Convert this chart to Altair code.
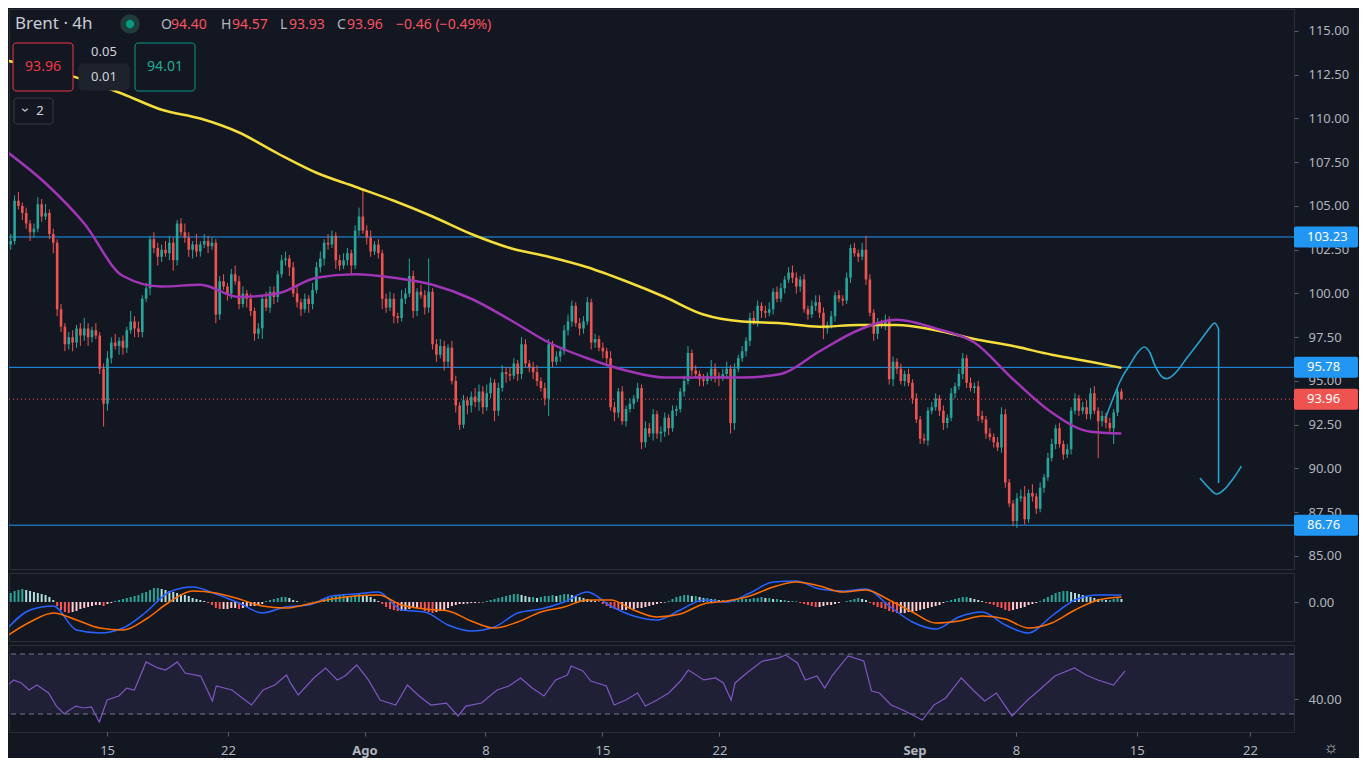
import altair as alt
import numpy as np
import pandas as pd

BG = "#131722"
UP = "#26a69a"
DOWN = "#ef5350"
TXT = "#b2b5be"
FONT = "Noto Sans"

# ---- Brent 4h candles (open = previous close) ----
first_open = 103.3
closes = [
    102.8, 103.0, 105.3, 105.0, 104.6, 104.0, 103.5, 103.7, 105.1, 104.4,
    104.6, 103.4, 102.9, 99.1, 98.1, 97.1, 97.5, 97.2, 98.0, 97.6,
    98.0, 97.5, 97.9, 97.6, 95.7, 93.7, 96.3, 97.2, 97.0, 97.3,
    96.9, 97.9, 98.4, 98.0, 97.8, 99.7, 100.3, 103.1, 102.6, 102.1,
    102.5, 102.3, 102.9, 101.9, 104.0, 103.5, 103.2, 102.5, 102.8, 102.4,
    102.8, 103.0, 102.7, 102.9, 98.8, 100.7, 100.4, 100.0, 101.1, 100.7,
    99.4, 100.0, 99.7, 99.0, 97.7, 98.0, 99.7, 99.2, 100.1, 99.8,
    101.1, 101.9, 102.0, 101.5, 100.0, 99.5, 99.1, 99.7, 99.4, 100.2,
    101.5, 102.0, 102.9, 102.8, 103.3, 101.9, 101.6, 101.9, 102.3, 101.6,
    103.6, 104.4, 103.6, 103.2, 102.4, 102.8, 102.3, 99.7, 99.2, 99.7,
    98.7, 98.6, 99.7, 100.0, 101.0, 99.0, 100.1, 99.9, 99.2, 100.1,
    97.1, 96.5, 97.0, 96.1, 96.9, 95.0, 93.6, 92.5, 93.9, 93.6,
    94.1, 93.8, 94.4, 93.5, 94.3, 94.9, 93.3, 94.6, 95.5, 95.4,
    95.3, 96.0, 95.4, 97.1, 96.0, 95.8, 95.5, 95.0, 94.6, 94.0,
    97.1, 96.1, 96.4, 96.7, 97.9, 98.4, 99.3, 98.3, 98.0, 98.4,
    99.5, 97.2, 97.4, 96.9, 96.7, 96.3, 93.5, 93.2, 94.4, 92.7,
    93.4, 93.7, 94.0, 94.6, 91.5, 92.3, 92.0, 93.1, 92.0, 92.1,
    92.9, 92.3, 93.3, 93.4, 94.4, 95.0, 96.6, 95.6, 95.4, 95.1,
    95.0, 95.3, 95.7, 95.3, 95.2, 95.4, 95.7, 92.6, 95.7, 96.3,
    96.7, 97.3, 98.6, 98.4, 99.3, 99.0, 98.9, 99.1, 100.1, 99.7,
    100.3, 100.8, 101.2, 100.9, 100.4, 100.8, 99.1, 98.8, 99.3, 99.5,
    98.9, 98.0, 98.2, 98.7, 99.9, 99.7, 99.6, 100.9, 102.6, 102.3,
    102.1, 102.5, 100.8, 98.9, 97.7, 98.3, 98.2, 98.5, 95.1, 96.1,
    95.7, 95.0, 95.4, 94.9, 94.0, 92.8, 91.7, 91.6, 93.3, 93.5,
    94.0, 93.3, 92.6, 92.9, 94.3, 94.7, 95.4, 96.3, 94.9, 94.6,
    94.7, 93.0, 92.8, 92.0, 91.8, 91.5, 91.2, 93.1, 89.2, 88.0,
    87.0, 88.3, 88.4, 87.1, 88.6, 88.4, 87.7, 88.9, 89.5, 90.6,
    91.4, 92.3, 91.4, 90.8, 91.1, 93.3, 94.0, 93.3, 93.5, 93.1,
    94.3, 93.3, 92.7, 93.0, 92.6, 92.3, 93.2, 94.4, 93.96,
]
# upper / lower wick beyond the body
wick_up = [
    0.3, 0.4, 0.3, 0.5, 0.2, 0.3, 0.2, 0.3, 0.4, 0.3,
    0.5, 0.2, 0.3, 0.2, 0.3, 0.2, 0.3, 0.4, 0.2, 0.3,
    0.6, 0.3, 0.2, 0.4, 0.2, 0.3, 0.4, 0.3, 0.5, 0.2,
    0.3, 0.2, 0.6, 0.3, 0.4, 0.2, 0.3, 0.2, 0.4, 0.3,
    0.3, 0.5, 0.4, 0.3, 0.2, 0.3, 0.5, 0.3, 0.2, 0.6,
    0.2, 0.4, 0.3, 0.3, 0.2, 0.3, 0.4, 0.2, 0.3, 0.5,
    0.3, 0.4, 0.2, 0.3, 0.2, 0.3, 0.2, 0.4, 0.3, 0.3,
    0.2, 0.3, 0.4, 0.2, 0.3, 0.5, 0.2, 0.3, 0.2, 0.4,
    0.3, 0.4, 0.2, 0.5, 0.3, 0.2, 0.3, 0.4, 0.3, 0.2,
    0.3, 0.5, 1.6, 0.3, 0.4, 0.2, 0.3, 0.2, 0.3, 0.4,
    0.3, 0.2, 0.5, 0.3, 1.0, 0.3, 0.2, 0.4, 0.3, 1.9,
    0.2, 0.3, 0.4, 0.3, 0.2, 0.4, 0.3, 0.2, 0.3, 0.2,
    0.3, 0.5, 0.4, 0.3, 0.5, 0.3, 0.2, 0.3, 0.4, 0.3,
    0.4, 0.3, 0.2, 0.4, 0.3, 0.2, 0.3, 0.4, 0.2, 0.3,
    0.3, 0.2, 0.3, 0.2, 0.3, 0.4, 0.3, 0.2, 0.3, 0.3,
    0.3, 0.2, 0.3, 0.2, 0.3, 0.2, 0.4, 0.3, 0.2, 0.3,
    0.2, 0.3, 0.2, 0.3, 0.2, 0.4, 0.3, 0.3, 0.2, 0.3,
    0.3, 0.2, 0.3, 0.2, 0.2, 0.3, 0.4, 0.2, 0.3, 0.2,
    0.3, 0.2, 0.5, 0.3, 0.2, 0.3, 0.4, 0.2, 0.3, 0.2,
    0.3, 0.2, 0.3, 0.4, 0.3, 0.2, 0.3, 0.4, 0.2, 0.3,
    0.3, 0.2, 0.3, 0.4, 0.3, 0.2, 0.3, 0.2, 0.3, 0.4,
    0.4, 0.3, 0.2, 0.3, 0.2, 0.3, 0.2, 0.3, 0.2, 0.3,
    0.2, 0.4, 0.8, 0.3, 0.2, 0.3, 0.2, 0.3, 0.2, 0.3,
    0.2, 0.3, 0.2, 0.3, 0.2, 0.3, 0.2, 0.3, 0.2, 0.3,
    0.3, 0.2, 0.3, 0.2, 0.3, 0.2, 0.3, 0.3, 0.2, 0.3,
    0.2, 0.3, 0.3, 0.2, 0.3, 0.2, 0.3, 0.4, 0.3, 0.2,
    0.2, 0.3, 0.4, 0.6, 0.2, 0.5, 0.2, 0.3, 0.2, 0.3,
    0.3, 0.2, 0.3, 0.2, 0.3, 0.2, 0.3, 0.2, 0.3, 0.4,
    0.3, 0.4, 0.2, 0.3, 0.2, 0.3, 0.2, 0.3, 0.17,
]
wick_dn = [
    0.4, 0.3, 0.2, 0.2, 0.4, 0.3, 0.5, 0.3, 0.2, 0.3,
    0.2, 0.3, 0.6, 0.4, 0.3, 0.4, 0.3, 0.5, 0.3, 0.6,
    0.3, 0.5, 0.3, 0.2, 0.3, 1.3, 0.4, 0.3, 0.2, 0.5,
    0.4, 0.3, 0.2, 0.5, 0.3, 0.3, 0.2, 0.4, 0.3, 0.5,
    0.3, 0.2, 0.4, 0.6, 0.3, 0.2, 0.3, 0.4, 0.5, 0.3,
    0.3, 0.2, 0.4, 0.2, 0.5, 0.3, 0.2, 0.4, 0.3, 0.2,
    0.3, 0.2, 0.5, 0.3, 0.4, 0.3, 0.6, 0.2, 0.3, 0.4,
    0.3, 0.2, 0.3, 0.5, 0.2, 0.3, 0.4, 0.2, 0.5, 0.3,
    0.2, 0.3, 0.4, 0.3, 0.2, 0.5, 0.3, 0.2, 0.3, 0.5,
    0.2, 0.3, 0.2, 0.4, 0.3, 0.2, 0.3, 0.6, 0.3, 0.2,
    0.4, 0.3, 0.2, 0.3, 0.2, 0.4, 0.3, 0.2, 0.4, 0.3,
    0.3, 0.4, 0.2, 0.5, 0.3, 0.2, 0.4, 0.3, 0.2, 0.5,
    0.4, 0.3, 0.5, 0.4, 0.2, 0.3, 0.6, 0.3, 0.2, 0.5,
    0.3, 0.2, 0.4, 0.3, 0.2, 0.3, 0.4, 0.3, 0.2, 0.4,
    1.0, 0.3, 0.2, 0.3, 0.2, 0.3, 0.3, 0.2, 0.4, 0.3,
    0.2, 0.4, 0.3, 0.2, 0.4, 0.3, 0.2, 0.5, 0.3, 0.2,
    0.3, 0.2, 0.3, 0.2, 0.4, 0.3, 0.2, 0.4, 0.3, 0.5,
    0.3, 0.4, 0.2, 0.3, 0.2, 0.3, 0.2, 0.3, 0.2, 0.4,
    0.3, 0.2, 0.3, 0.4, 0.5, 0.2, 0.3, 0.6, 0.4, 0.2,
    0.2, 0.3, 0.3, 0.2, 0.3, 0.4, 0.3, 0.2, 0.3, 0.2,
    0.2, 0.3, 0.2, 0.3, 0.4, 0.3, 0.2, 0.3, 0.2, 0.3,
    0.3, 0.6, 0.3, 0.2, 0.3, 0.2, 0.3, 0.2, 0.3, 0.2,
    0.3, 0.2, 0.3, 0.2, 0.4, 0.3, 0.2, 0.3, 0.3, 0.4,
    0.3, 0.2, 0.3, 0.2, 0.3, 0.2, 0.3, 0.2, 0.3, 0.2,
    0.2, 0.3, 0.4, 0.3, 0.2, 0.3, 0.2, 0.3, 0.3, 0.2,
    0.3, 0.3, 0.2, 0.3, 0.2, 0.3, 0.2, 0.3, 0.3, 0.2,
    0.3, 0.4, 0.2, 0.3, 0.2, 0.3, 0.3, 0.2, 0.3, 0.2,
    0.2, 0.3, 0.2, 0.3, 0.2, 0.3, 0.2, 0.3, 0.2, 0.3,
    0.3, 0.2, 2.1, 0.3, 0.3, 0.2, 0.9, 0.2, 0.03,
]

# moving averages (yellow = slow, purple = fast), sampled every 10 bars
ma_idx = [0, 10, 20, 30, 40, 50, 60, 70, 80, 90, 100, 110, 120, 130, 140,
          150, 160, 170, 180, 190, 200, 210, 220, 230, 240, 250, 260, 270, 280, 288]
ma_slow = [113.3, 112.85, 112.2, 111.4, 110.5, 110.0, 109.2, 108.0, 106.9, 106.1,
           105.3, 104.4, 103.4, 102.6, 102.1, 101.5, 100.7, 99.8, 98.8, 98.4,
           98.3, 98.1, 98.2, 98.2, 97.9, 97.4, 97.0, 96.5, 96.1, 95.75]
ma_fast = [108.1, 106.3, 104.0, 101.0, 100.4, 100.5, 99.8, 100.0, 100.9, 101.1,
           100.9, 100.5, 99.7, 98.5, 97.2, 96.3, 95.6, 95.2, 95.2, 95.2,
           95.4, 96.7, 97.9, 98.5, 98.0, 97.2, 95.1, 93.2, 92.1, 92.0]

levels = [103.23, 95.78, 86.76]
last_close = 93.96
price_ticks = [85, 87.5, 90, 92.5, 95, 97.5, 100, 102.5, 105, 107.5, 110, 112.5, 115]

# hand-drawn projection (bar index, price)
wave_idx = [283.9, 287.7, 290.3, 292.1, 293.9, 295.4, 296.7, 298.5, 300.3, 302.4,
            304.9, 308.3, 310.8, 312.1, 313.1]
wave_px = [92.89, 95.0, 95.97, 96.6, 96.94, 96.6, 95.86, 95.23, 95.17, 95.57,
           96.31, 97.29, 98.03, 98.31, 97.97]
drop_idx = [313.1, 313.1]
drop_px = [97.97, 89.17]
hook_idx = [308.3, 310.6, 312.6, 314.7, 317.0, 319.0]
hook_px = [89.46, 88.89, 88.54, 88.83, 89.46, 90.14]

# MACD lines, sampled every 6 bars
macd_idx = [0, 6, 12, 18, 24, 30, 36, 42, 48, 54, 60, 66, 72, 78, 84, 90, 96,
            102, 108, 114, 120, 126, 132, 138, 144, 150, 156, 162, 168, 174, 180,
            186, 192, 198, 204, 210, 216, 222, 228, 234, 240, 246, 252, 258, 264,
            270, 276, 282, 288]
macd_line = [-1.35, -0.4, -0.2, -1.4, -1.55, -1.3, -0.5, 0.5, 0.75, 0.4,
             -0.05, -0.55, -0.25, -0.15, 0.3, 0.4, 0.5, -0.4, -0.5, -1.15,
             -1.45, -1.25, -0.55, -0.35, 0.0, 0.5, -0.2, -0.7, -0.9, -0.4,
             0.1, 0.0, 0.45, 1.0, 1.05, 0.65, 0.55, 0.65, -0.2, -1.0,
             -1.35, -0.75, -0.5, -1.15, -1.55, -0.7, 0.1, 0.35, 0.35]
signal_line = [-1.7, -1.0, -0.55, -0.9, -1.3, -1.4, -0.85, 0.0, 0.55, 0.45,
               0.15, -0.2, -0.3, -0.1, 0.15, 0.3, 0.35, -0.15, -0.35, -0.45,
               -0.95, -1.3, -1.0, -0.5, -0.25, 0.1, 0.1, -0.4, -0.75, -0.6,
               -0.1, 0.05, 0.3, 0.75, 1.0, 0.8, 0.5, 0.6, 0.1, -0.5,
               -1.05, -0.95, -0.7, -0.85, -1.3, -1.05, -0.4, 0.1, 0.25]
# MACD histogram, one value per bar
hist = (
    [0.35, 0.45, 0.55, 0.6, 0.65, 0.6, 0.55, 0.5, 0.45, 0.4, 0.35, 0.25, 0.1]
    + [-0.2, -0.4, -0.5, -0.55, -0.5, -0.45, -0.35, -0.3, -0.25, -0.2, -0.15, -0.15, -0.2, -0.1, -0.05]
    + [0.05, 0.1, 0.15, 0.2, 0.25, 0.3, 0.35, 0.45, 0.5, 0.6, 0.7, 0.7, 0.65]
    + [0.6, 0.55, 0.5, 0.45, 0.4, 0.35, 0.3, 0.2, 0.15, 0.1, 0.05]
    + [-0.05, -0.15, -0.3, -0.35, -0.35, -0.35, -0.3, -0.3, -0.35, -0.3, -0.25, -0.2, -0.2, -0.15, -0.1]
    + [0.05, 0.1, 0.15, 0.2, 0.25, 0.25, 0.2, 0.1, 0.05, 0.0]
    + [0.02, -0.02, 0.02, 0.05]
    + [0.1, 0.15, 0.2, 0.25, 0.3, 0.35, 0.35, 0.3, 0.3, 0.35, 0.4, 0.35, 0.3, 0.25, 0.15, 0.05]
    + [-0.1, -0.25, -0.35, -0.4, -0.45, -0.45, -0.4, -0.35, -0.3, -0.3, -0.35, -0.45, -0.5, -0.55,
       -0.5, -0.45, -0.4, -0.3, -0.2, -0.15, -0.1]
    + [-0.1, -0.08, -0.05, -0.05, -0.03, -0.02]
    + [0.05, 0.1, 0.15, 0.2, 0.25, 0.3, 0.35, 0.4, 0.4, 0.35, 0.3, 0.25, 0.25, 0.2, 0.25, 0.3,
       0.3, 0.35, 0.3, 0.35, 0.4, 0.4, 0.35, 0.3, 0.25]
    + [0.2, 0.15, 0.1, 0.05, 0.02]
    + [-0.1, -0.2, -0.3, -0.35, -0.4, -0.4, -0.4, -0.35, -0.35, -0.3, -0.3, -0.25, -0.2, -0.15,
       -0.1, -0.05, -0.03]
    + [0.05, 0.15, 0.25, 0.3, 0.35, 0.35, 0.3, 0.3, 0.25, 0.2, 0.2]
    + [0.15, 0.15, 0.1, 0.1, 0.05, 0.05, 0.1, 0.1, 0.15, 0.15]
    + [0.15, 0.2, 0.2, 0.25, 0.2, 0.2, 0.15, 0.15, 0.1, 0.1, 0.05, 0.05, 0.02]
    + [-0.05, -0.1, -0.15, -0.2, -0.25, -0.25, -0.2, -0.15, -0.15, -0.1, -0.05, 0.0]
    + [0.05, 0.1, 0.15, 0.2, 0.15, 0.1]
    + [-0.05, -0.15, -0.25, -0.3, -0.35, -0.45, -0.5, -0.55, -0.55, -0.55, -0.5, -0.5, -0.45,
       -0.4, -0.35, -0.3, -0.25, -0.2, -0.15, -0.05]
    + [0.05, 0.1, 0.15, 0.2, 0.25, 0.25, 0.2, 0.15, 0.1, 0.05]
    + [-0.05, -0.1, -0.15, -0.25, -0.3, -0.4, -0.45, -0.4, -0.35, -0.3, -0.25, -0.15, -0.1, -0.05]
    + [0.05, 0.15, 0.25, 0.35, 0.45, 0.5, 0.55, 0.55, 0.5, 0.45, 0.4, 0.35, 0.3]
    + [0.25, 0.2, 0.15, 0.15, 0.1, 0.1, 0.15, 0.2, 0.15]
)

# RSI (bar index, value)
rsi_idx = [0, 3, 5, 7, 9, 12, 14, 16, 17, 19, 21, 23, 25, 27, 30, 32, 34, 37, 40, 42,
           45, 47, 51, 54, 55, 59, 61, 64, 67, 70, 73, 74, 76, 80, 83, 86, 88, 91, 94, 97,
           101, 104, 107, 110, 114, 117, 119, 123, 127, 130, 133, 136, 139, 142, 145, 146,
           149, 151, 155, 157, 160, 163, 165, 168, 171, 174, 176, 180, 183, 185, 187, 188,
           191, 195, 199, 201, 204, 206, 209, 211, 213, 217, 221, 223, 225, 228, 231, 236,
           239, 242, 246, 249, 252, 255, 259, 263, 266, 270, 275, 278, 281, 285, 288]
rsi_val = [45.3, 52.7, 50.7, 46.0, 49.3, 44.0, 35.3, 30.0, 32.0, 35.3, 34.0, 34.7, 24.7,
           39.3, 42.0, 47.3, 46.0, 64.7, 60.7, 59.3, 64.7, 57.3, 55.3, 38.7, 48.7, 46.0,
           42.0, 36.0, 46.0, 49.3, 56.0, 50.7, 42.7, 54.0, 60.7, 52.7, 55.3, 62.7, 52.7,
           39.3, 36.0, 49.3, 42.0, 36.0, 37.3, 28.7, 35.3, 37.3, 46.0, 48.7, 54.0, 47.3,
           42.0, 52.7, 56.0, 62.0, 58.7, 52.0, 48.7, 36.0, 39.3, 44.0, 35.3, 39.3, 44.0,
           52.0, 59.3, 52.7, 54.0, 50.7, 39.3, 50.7, 57.3, 65.3, 67.3, 69.3, 64.0, 52.7,
           55.3, 47.3, 56.0, 68.7, 65.3, 45.3, 44.0, 36.0, 32.7, 26.0, 36.0, 40.7, 54.0,
           46.0, 38.7, 44.0, 28.7, 39.3, 46.0, 55.3, 60.7, 56.0, 52.7, 49.3, 58.7]

tick_pos = [27, 58, 93, 124, 154, 184, 234, 260, 291, 320]
tick_lbl = ["15", "22", "Ago", "8", "15", "22", "Sep", "8", "15", "22"]

# ---- tables ----
candles = pd.DataFrame({
    "open": pd.Series([first_open] + closes[:-1]),
    "close": pd.Series(closes),
    "up": pd.Series(wick_up),
    "dn": pd.Series(wick_dn),
})
candles["up"] = candles["up"].fillna(0)
candles["dn"] = candles["dn"].fillna(0)
candles["i"] = range(len(candles))
candles["high"] = candles[["open", "close"]].max(axis=1) + candles["up"]
candles["low"] = candles[["open", "close"]].min(axis=1) - candles["dn"]
candles["col"] = np.where(candles["close"] >= candles["open"], UP, DOWN)

ma_df = pd.DataFrame({"i": ma_idx, "slow": ma_slow, "fast": ma_fast})

proj = pd.concat([
    pd.DataFrame({"i": wave_idx, "p": wave_px, "seg": "wave"}),
    pd.DataFrame({"i": drop_idx, "p": drop_px, "seg": "drop"}),
    pd.DataFrame({"i": hook_idx, "p": hook_px, "seg": "hook"}),
], ignore_index=True)
proj["seq"] = range(len(proj))

hist_df = pd.DataFrame({"h": hist})
hist_df["i"] = range(len(hist_df))
prev = hist_df["h"].shift(1).fillna(0)
hist_df["col"] = np.where(
    hist_df["h"] >= 0,
    np.where(hist_df["h"] >= prev, "#26a69a", "#b2dfdb"),
    np.where(hist_df["h"] < prev, "#ff5252", "#ffcdd2"),
)
macd_df = pd.DataFrame({"i": macd_idx, "macd": macd_line, "signal": signal_line})
rsi_df = pd.DataFrame({"i": rsi_idx, "rsi": rsi_val})

tags = pd.DataFrame({"level": levels + [last_close],
                     "fill": ["#2196f3", "#2196f3", "#2196f3", DOWN]})
tags["txt"] = tags["level"].map("{:.2f}".format)

# ---- scales / axes ----
W = 1285
xs = alt.Scale(domain=[1.85, 331.3], nice=False, zero=False)
ys_price = alt.Scale(domain=[84.257, 116.257], nice=False, zero=False)
ys_macd = alt.Scale(domain=[-1.95, 1.45], nice=False, zero=False)
ys_rsi = alt.Scale(domain=[18, 76], nice=False, zero=False)


def right_axis(vals):
    return alt.Axis(orient="right", values=vals, format=".2f", title=None, tickSize=4,
                    labelPadding=10, labelFontSize=13, labelColor=TXT, tickColor="#5d606b",
                    domain=False, grid=False)


price_axis = right_axis(price_ticks)
macd_axis = right_axis([0])
rsi_axis = right_axis([40])


def py(field):
    return alt.Y(field, scale=ys_price, axis=price_axis, title=None)


def my(field):
    return alt.Y(field, scale=ys_macd, axis=macd_axis, title=None)


def ry(field):
    return alt.Y(field, scale=ys_rsi, axis=rsi_axis, title=None)


cx = alt.X("i:Q", scale=xs, axis=None)
one = alt.Data(values=[{"k": 0}])


def label(txt, x, y, color, size=14, align="left", angle=0):
    return alt.Chart(one).mark_text(text=txt, align=align, baseline="middle", color=color,
                                    fontSize=size, font=FONT, angle=angle).encode(
        x=alt.value(x), y=alt.value(y))


def box(x, y, w, h, fill, stroke):
    return alt.Chart(one).mark_rect(fill=fill, stroke=stroke, strokeWidth=1, cornerRadius=3).encode(
        x=alt.value(x), x2=alt.value(x + w), y=alt.value(y), y2=alt.value(y + h))


# ---- price panel ----
level_lines = alt.Chart(pd.DataFrame({"level": levels})).mark_rule(
    color="#2196f3", strokeWidth=1).encode(y=py("level:Q"))
last_line = alt.Chart(pd.DataFrame({"level": [last_close]})).mark_rule(
    color=DOWN, strokeWidth=1, strokeDash=[1, 3]).encode(y=py("level:Q"))
wicks = alt.Chart(candles).mark_rule(strokeWidth=1, clip=True).encode(
    x=cx, y=py("low:Q"), y2="high:Q", color=alt.Color("col:N", scale=None))
bodies = alt.Chart(candles).mark_bar(size=2.6, clip=True).encode(
    x=cx, y=py("open:Q"), y2="close:Q", color=alt.Color("col:N", scale=None))
slow_line = alt.Chart(ma_df).mark_line(color="#f5dd3c", strokeWidth=2.5, interpolate="monotone",
                                       clip=True).encode(x=cx, y=py("slow:Q"))
fast_line = alt.Chart(ma_df).mark_line(color="#a035b5", strokeWidth=2.5, interpolate="monotone",
                                       clip=True).encode(x=cx, y=py("fast:Q"))
proj_line = alt.Chart(proj).mark_line(color="#27a2cf", strokeWidth=1.6, interpolate="cardinal").encode(
    x=cx, y=py("p:Q"), detail="seg:N", order="seq:Q")
tag_box = alt.Chart(tags).transform_calculate(
    top="datum.level + 0.6", bot="datum.level - 0.6"
).mark_rect(clip=False, cornerRadius=2).encode(
    x=alt.value(W), x2=alt.value(W + 64), y=py("top:Q"), y2="bot:Q",
    color=alt.Color("fill:N", scale=None))
tag_txt = alt.Chart(tags).mark_text(align="left", baseline="middle", color="white",
                                    fontSize=13, font=FONT).encode(
    x=alt.value(W + 13), y=py("level:Q"), text="txt:N")

header = [
    label("Brent · 4h", 6, 15, "#c9ccd4", size=17),
    alt.Chart(one).mark_circle(color="#1e3d3b", size=380, opacity=1).encode(
        x=alt.value(121), y=alt.value(15)),
    alt.Chart(one).mark_circle(color="#089981", size=70, opacity=1).encode(
        x=alt.value(121), y=alt.value(15)),
    label("O", 152, 16, TXT), label("94.40", 162, 16, "#f7525f"),
    label("H", 212, 16, TXT), label("94.57", 223, 16, "#f7525f"),
    label("L", 271, 16, TXT), label("93.93", 280, 16, "#f7525f"),
    label("C", 328, 16, TXT), label("93.96", 338, 16, "#f7525f"),
    label("−0.46 (−0.49%)", 387, 16, "#f7525f"),
    box(4, 34, 60, 48, BG, "#f23645"),
    label("93.96", 34, 58, "#f23645", align="center"),
    label("0.05", 95, 43, "#d1d4dc", size=13, align="center"),
    box(70, 55, 50, 26, "#1e222d", "#1e222d"),
    label("0.01", 95, 68, "#d1d4dc", size=13, align="center"),
    box(126, 34, 60, 48, BG, "#089981"),
    label("94.01", 156, 58, "#22ab94", align="center"),
    box(5, 89, 39, 26, BG, "#363a45"),
    label("›", 17, 101, "#d1d4dc", size=15, align="center", angle=90),
    label("2", 31, 102, "#d1d4dc", size=13, align="center"),
]

price = alt.layer(
    level_lines, last_line, wicks, bodies, slow_line, fast_line, proj_line,
    tag_box, tag_txt, *header
).properties(width=W, height=560)

# ---- MACD panel ----
hist_bars = alt.Chart(hist_df).mark_bar(size=2, clip=True).encode(
    x=cx, y=my("h:Q"), y2=alt.datum(0), color=alt.Color("col:N", scale=None))
macd_l = alt.Chart(macd_df).mark_line(color="#2962ff", strokeWidth=1.5, interpolate="monotone",
                                      clip=True).encode(x=cx, y=my("macd:Q"))
signal_l = alt.Chart(macd_df).mark_line(color="#ff6d00", strokeWidth=1.5, interpolate="monotone",
                                        clip=True).encode(x=cx, y=my("signal:Q"))
macd = alt.layer(hist_bars, macd_l, signal_l).properties(width=W, height=68)

# ---- RSI panel ----
expr = ""
for p, t in zip(tick_pos, tick_lbl):
    expr += f"datum.value == {p} ? '{t}' : "
expr += "''"
bold_test = " || ".join(f"datum.value == {p}" for p, t in zip(tick_pos, tick_lbl) if not t.isdigit())

x_axis = alt.Axis(values=tick_pos, labelExpr=expr, title=None, tickSize=4, labelPadding=8,
                  labelFontSize=13, labelColor=TXT, tickColor="#5d606b", domain=False, grid=False,
                  labelFlush=False,
                  labelFontWeight={"condition": {"test": bold_test, "value": "bold"}, "value": "normal"})
band = alt.Chart(pd.DataFrame({"top": [70], "bot": [30]})).mark_rect(
    color="#7e57c2", opacity=0.12).encode(
    x=alt.value(0), x2=alt.value(W), y=ry("top:Q"), y2="bot:Q")
band_lines = alt.Chart(pd.DataFrame({"lv": [30, 70]})).mark_rule(
    color="#787b86", strokeDash=[5, 4], strokeWidth=1).encode(y=ry("lv:Q"))
rsi_line = alt.Chart(rsi_df).mark_line(color="#7e57c2", strokeWidth=1.2, clip=True).encode(
    x=alt.X("i:Q", scale=xs, axis=x_axis, title=None), y=ry("rsi:Q"))
gear = label("☼", W + 37, 103, TXT, size=17, align="center")
rsi = alt.layer(band, band_lines, rsi_line, gear).properties(width=W, height=87)

chart = alt.vconcat(price, macd, rsi, spacing=2, padding=0).configure(
    background=BG, font=FONT
).configure_view(stroke="#2a2e39", strokeWidth=1)

chart.save("out.html", embed_options={"renderer": "svg", "actions": False})
